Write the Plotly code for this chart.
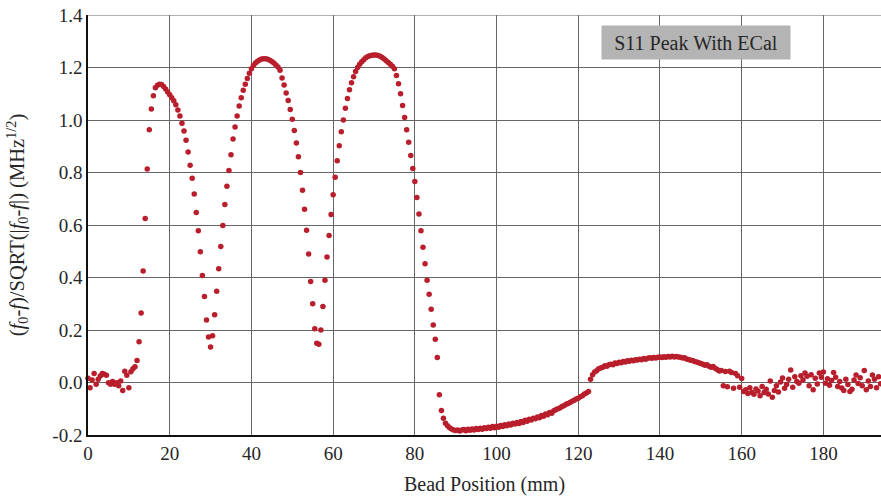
import numpy as np
import plotly.graph_objects as go

# Bead-pull perturbation signal sampled every 0.5 mm, starting at 0 mm
STEP_MM = 0.5
signal = [
    0.016, -0.02, 0.01, 0.034, -0.007, 0.012, 0.025, 0.034, 0.031, 0.028,      # 0.0
    -0.001, -0.007, 0.004, -0.007, -0.001, -0.012, 0.006, -0.03, 0.043, 0.028,  # 5.0
    -0.02, 0.041, 0.052, 0.06, 0.084, 0.155, 0.265, 0.425, 0.625, 0.813,       # 10.0
    0.963, 1.042, 1.092, 1.123, 1.132, 1.136, 1.135, 1.128, 1.118, 1.107,      # 15.0
    1.096, 1.085, 1.073, 1.058, 1.038, 1.015, 0.988, 0.958, 0.923, 0.878,      # 20.0
    0.828, 0.778, 0.718, 0.648, 0.578, 0.498, 0.408, 0.328, 0.238, 0.173,      # 25.0
    0.135, 0.178, 0.258, 0.348, 0.433, 0.518, 0.598, 0.678, 0.748, 0.808,      # 30.0
    0.868, 0.928, 0.973, 1.015, 1.053, 1.085, 1.113, 1.136, 1.158, 1.178,      # 35.0
    1.195, 1.208, 1.217, 1.224, 1.229, 1.232, 1.233, 1.233, 1.231, 1.228,      # 40.0
    1.223, 1.217, 1.21, 1.202, 1.19, 1.16, 1.133, 1.103, 1.074, 1.04,          # 45.0
    1.003, 0.96, 0.912, 0.86, 0.8, 0.732, 0.66, 0.58, 0.49, 0.385,             # 50.0
    0.3, 0.205, 0.15, 0.146, 0.2, 0.29, 0.39, 0.478, 0.56, 0.64,               # 55.0
    0.715, 0.782, 0.845, 0.902, 0.955, 1.0, 1.045, 1.082, 1.115, 1.142,        # 60.0
    1.165, 1.185, 1.2, 1.212, 1.222, 1.23, 1.237, 1.242, 1.245, 1.247,         # 65.0
    1.248, 1.248, 1.246, 1.243, 1.238, 1.232, 1.226, 1.219, 1.212, 1.205,      # 70.0
    1.195, 1.17, 1.138, 1.1, 1.055, 1.01, 0.963, 0.915, 0.865, 0.815,          # 75.0
    0.766, 0.705, 0.642, 0.578, 0.515, 0.452, 0.39, 0.336, 0.279, 0.219,       # 80.0
    0.165, 0.095, -0.047, -0.107, -0.136, -0.155, -0.165, -0.172, -0.177, -0.181,  # 85.0
    -0.183, -0.181, -0.185, -0.181, -0.179, -0.184, -0.178, -0.182, -0.177, -0.181,  # 90.0
    -0.175, -0.179, -0.174, -0.178, -0.172, -0.175, -0.17, -0.174, -0.168, -0.172,  # 95.0
    -0.167, -0.17, -0.164, -0.168, -0.161, -0.165, -0.158, -0.162, -0.155, -0.158,  # 100.0
    -0.152, -0.156, -0.149, -0.152, -0.144, -0.148, -0.14, -0.143, -0.136, -0.138,  # 105.0
    -0.131, -0.134, -0.126, -0.129, -0.12, -0.123, -0.114, -0.117, -0.108, -0.104,  # 110.0
    -0.1, -0.097, -0.091, -0.089, -0.083, -0.08, -0.076, -0.071, -0.068, -0.063,    # 115.0
    -0.06, -0.054, -0.05, -0.044, -0.04, -0.034, 0.012, 0.03, 0.04, 0.045,          # 120.0
    0.052, 0.055, 0.058, 0.064, 0.062, 0.068, 0.07, 0.068, 0.074, 0.072,       # 125.0
    0.077, 0.075, 0.08, 0.078, 0.083, 0.081, 0.085, 0.083, 0.087, 0.086,       # 130.0
    0.089, 0.087, 0.091, 0.089, 0.092, 0.094, 0.092, 0.095, 0.093, 0.096,      # 135.0
    0.097, 0.095, 0.098, 0.096, 0.099, 0.097, 0.1, 0.097, 0.099, 0.097,        # 140.0
    0.096, 0.093, 0.094, 0.09, 0.088, 0.085, 0.084, 0.08, 0.078, 0.075,        # 145.0
    0.072, 0.07, 0.066, 0.068, 0.062, 0.058, 0.061, 0.054, 0.05, 0.044,        # 150.0
    0.046, -0.012, 0.042, -0.016, 0.043, 0.038, -0.022, 0.034, 0.026, -0.018,  # 155.0
    0.015, -0.034, -0.028, -0.042, -0.02, -0.038, -0.045, -0.025, -0.032, -0.05,  # 160.0
    -0.015, -0.038, -0.026, -0.044, 0.006, -0.056, -0.03, -0.012, -0.036, 0.002,  # 165.0
    0.017, -0.022, -0.008, 0.012, 0.048, -0.018, 0.022, 0.004, -0.003, 0.026,  # 170.0
    0.01, 0.036, 0.024, -0.012, 0.03, -0.028, 0.016, -0.006, 0.036, 0.02,      # 175.0
    0.04, -0.003, 0.014, -0.01, 0.008, 0.038, 0.02, -0.015, 0.004, -0.021,     # 180.0
    -0.03, 0.012, -0.008, -0.034, -0.026, 0.01, 0.029, -0.004, 0.018, -0.012,  # 185.0
    0.046, -0.028, 0.006, -0.015, 0.029, 0.012, -0.02, 0.022, -0.005,          # 190.0
]
bead_pos = np.round(np.arange(len(signal)) * STEP_MM, 1)

x_ticks = [0, 20, 40, 60, 80, 100, 120, 140, 160, 180]
y_ticks = [-0.2, 0.0, 0.2, 0.4, 0.6, 0.8, 1.0, 1.2, 1.4]
y_tick_text = ["-0.2", "0.0", "0.2", "0.4", "0.6", "0.8", "1.0", "1.2", "1.4"]

SERIF = "Liberation Serif, Times New Roman, serif"
GRID = "#666666"
TEXT = "#262626"

fig = go.Figure()
fig.add_trace(go.Scatter(
    x=bead_pos, y=signal, mode="markers",
    marker=dict(color="#B81E2B", size=5.5, line=dict(width=0)),
    cliponaxis=False, showlegend=False,
))

fig.update_layout(
    width=881, height=500,
    margin=dict(l=88, r=0, t=15, b=65),
    paper_bgcolor="white", plot_bgcolor="white",
    font=dict(family=SERIF, size=19, color=TEXT),
    xaxis=dict(
        range=[0, 194.1], tickmode="array", tickvals=x_ticks,
        showgrid=True, gridcolor=GRID, gridwidth=1,
        showline=True, linecolor="#111111", linewidth=1.5,
        zeroline=False, ticks="", ticklen=0,
        tickfont=dict(family=SERIF, size=19, color=TEXT),
        title=dict(text="Bead Position (mm)", standoff=14,
                   font=dict(family=SERIF, size=20, color=TEXT)),
    ),
    yaxis=dict(
        range=[-0.2, 1.4], tickmode="array", tickvals=y_ticks, ticktext=y_tick_text,
        showgrid=True, gridcolor=GRID, gridwidth=1,
        showline=True, linecolor="#111111", linewidth=1.5,
        zeroline=False, ticks="", ticklen=0,
        tickfont=dict(family=SERIF, size=19, color=TEXT),
        title=dict(
            text="(<i>f</i><sub>0</sub>-<i>f</i>)/SQRT(|<i>f</i><sub>0</sub>-<i>f</i>|) (MHz<sup>1/2</sup>)",
            standoff=22, font=dict(family=SERIF, size=20.5, color=TEXT)),
    ),
    annotations=[dict(
        x=148.8, y=1.294, xref="x", yref="y",
        text="S11 Peak With ECal", showarrow=False,
        font=dict(family=SERIF, size=20, color=TEXT),
        bgcolor="#B4B4B4", width=186, height=31,
        xanchor="center", yanchor="middle",
    )],
)

# top boundary of the plotting area drawn like a grid line
fig.add_shape(type="line", xref="paper", yref="y", x0=0, x1=1, y0=1.4, y1=1.4,
              line=dict(color=GRID, width=1))

fig.write_html("out.html")
